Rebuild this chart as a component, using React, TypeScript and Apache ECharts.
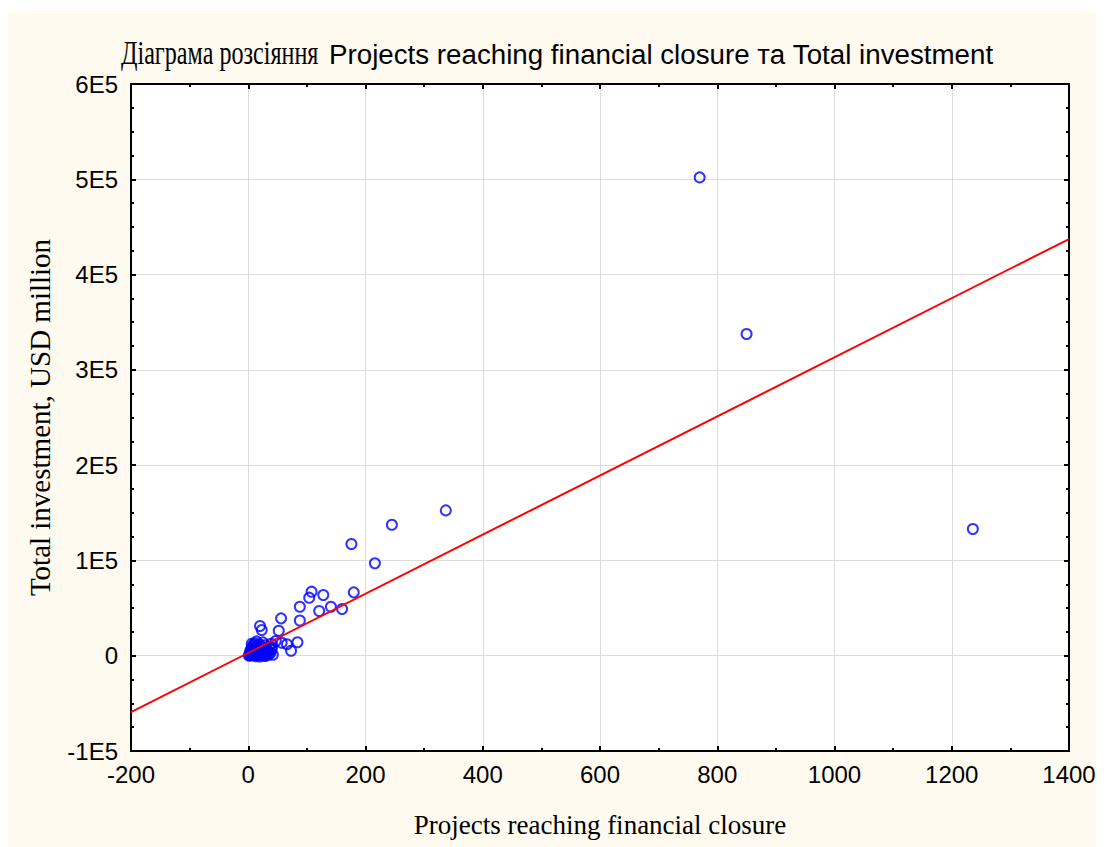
import React, { useEffect, useRef } from "react";
import * as echarts from "echarts";

// Projects reaching financial closure (x) and Total investment, USD million (y)
const projects = [
  770, 850, 1236, 337, 245, 176, 216, 180, 108, 104, 128, 88, 121, 141, 160,
  56, 88, 20, 23, 52, 57, 66, 84, 73, 47, 40,
  2, 3, 4, 5, 6, 7, 8, 9, 10, 11, 12, 13, 14, 15, 16, 17, 18, 19, 20, 21, 22,
  24, 25, 26, 27, 28, 30, 31, 32, 34, 36, 38, 40, 42, 3, 5, 7, 9, 11, 6, 14,
  4, 1, 8, 13, 20, 29, 35, 39,
];
const investment = [
  502000, 337600, 133000, 152500, 137500, 117200, 97000, 66500, 67200, 60900,
  63700, 51400, 46900, 51400, 49000, 39200, 36900, 31200, 27000, 26200, 13600,
  12000, 14100, 5200, 15500, 9000,
  500, 1500, 300, 2500, 800, 4000, 1800, 6000, 3000, 900, 8000, 5000, 2000,
  10500, 3500, 700, 7000, 12000, 4500, 1200, 9000, 2500, 14000, 6000, 500,
  11000, 3500, 8000, 1500, 5000, 9500, 3000, 6500, 1000, 4500, 7000, 9500,
  11000, 13000, 12500, 15000, 3000, 200, 500, -500, -800, -300, 1200, 12500,
];

// Fitted line endpoints
const fitX = [-200, 1400];
const fitY = [-59100, 437300];

const xTickValues = [-200, 0, 200, 400, 600, 800, 1000, 1200, 1400];
const xTickLabels = ["-200", "0", "200", "400", "600", "800", "1000", "1200", "1400"];
const yTickValues = [-100000, 0, 100000, 200000, 300000, 400000, 500000, 600000];
const yTickLabels = ["-1E5", "0", "1E5", "2E5", "3E5", "4E5", "5E5", "6E5"];

const titleMain = "Діаграма розсіяння";
const titleSub = "Projects reaching financial closure та Total investment";
const xName = "Projects reaching financial closure";
const yName = "Total investment, USD million";

export default function App() {
  const ref = useRef<HTMLDivElement>(null);
  useEffect(() => {
    if (!ref.current) return;
    const chart = echarts.init(ref.current, undefined, { renderer: "svg" });
    const sans = "'Liberation Sans', Arial, sans-serif";
    const serif = "'Liberation Serif', 'Times New Roman', serif";
    const tickCommon = {
      axisLine: { show: true, onZero: false, lineStyle: { color: "#000", width: 2 } },
      axisTick: { show: true, inside: true, length: 5, lineStyle: { color: "#000", width: 2 } },
      minorTick: { show: true, length: 3, lineStyle: { color: "#000", width: 2 } },
    };
    chart.setOption({
      animation: false,
      backgroundColor: "#fefaef",
      graphic: [
        {
          type: "text",
          x: 113,
          y: 40,
          scaleX: 0.71,
          style: {
            text: titleMain,
            fontFamily: serif,
            fontSize: 34,
            fill: "#000",
            verticalAlign: "middle",
            textAlign: "left",
          },
        },
        {
          type: "text",
          x: 321,
          y: 42,
          scaleX: 0.99,
          style: {
            text: titleSub,
            fontFamily: sans,
            fontSize: 28,
            fill: "#000",
            verticalAlign: "middle",
            textAlign: "left",
          },
        },
      ],
      grid: {
        left: 123,
        top: 72,
        right: 35,
        bottom: 96,
        show: true,
        backgroundColor: "#ffffff",
        borderColor: "#000",
        borderWidth: 2,
      },
      xAxis: [
        {
          type: "value",
          min: -200,
          max: 1400,
          interval: 200,
          position: "bottom",
          ...tickCommon,
          minorTick: { ...tickCommon.minorTick, splitNumber: 2 },
          splitLine: { show: true, lineStyle: { color: "#dcdcdc", width: 1 } },
          axisLabel: {
            fontFamily: sans,
            fontSize: 24,
            color: "#000",
            margin: 11,
            formatter: (v: number) => {
              const i = xTickValues.indexOf(v);
              return i >= 0 ? xTickLabels[i] : "";
            },
          },
          name: xName,
          nameLocation: "middle",
          nameGap: 60,
          nameTextStyle: { fontFamily: serif, fontSize: 27, color: "#000" },
        },
        {
          type: "value",
          min: -200,
          max: 1400,
          interval: 200,
          position: "top",
          ...tickCommon,
          minorTick: { ...tickCommon.minorTick, splitNumber: 2 },
          splitLine: { show: false },
          axisLabel: { show: false },
        },
      ],
      yAxis: [
        {
          type: "value",
          min: -100000,
          max: 600000,
          interval: 100000,
          position: "left",
          ...tickCommon,
          minorTick: { ...tickCommon.minorTick, splitNumber: 4 },
          splitLine: { show: true, lineStyle: { color: "#dcdcdc", width: 1 } },
          axisLabel: {
            fontFamily: sans,
            fontSize: 24,
            color: "#000",
            margin: 13,
            formatter: (v: number) => {
              const i = yTickValues.indexOf(v);
              return i >= 0 ? yTickLabels[i] : "";
            },
          },
          name: yName,
          nameLocation: "middle",
          nameGap: 77,
          nameTextStyle: { fontFamily: serif, fontSize: 29, color: "#000" },
        },
        {
          type: "value",
          min: -100000,
          max: 600000,
          interval: 100000,
          position: "right",
          ...tickCommon,
          minorTick: { ...tickCommon.minorTick, splitNumber: 4 },
          splitLine: { show: false },
          axisLabel: { show: false },
        },
      ],
      series: [
        {
          type: "scatter",
          xAxisIndex: 0,
          yAxisIndex: 0,
          data: projects.map((p, i) => [p, investment[i]]),
          symbol: "circle",
          symbolSize: 10,
          itemStyle: { color: "rgba(255,255,255,0)", borderColor: "#0000ff", borderWidth: 2 },
          z: 2,
        },
        {
          type: "line",
          xAxisIndex: 0,
          yAxisIndex: 0,
          data: fitX.map((x, i) => [x, fitY[i]]),
          symbol: "none",
          lineStyle: { color: "#ff0000", width: 2 },
          z: 3,
        },
      ],
    });
    return () => chart.dispose();
  }, []);
  return <div ref={ref} style={{ width: 1096, height: 835, marginTop: 4 }} />;
}
